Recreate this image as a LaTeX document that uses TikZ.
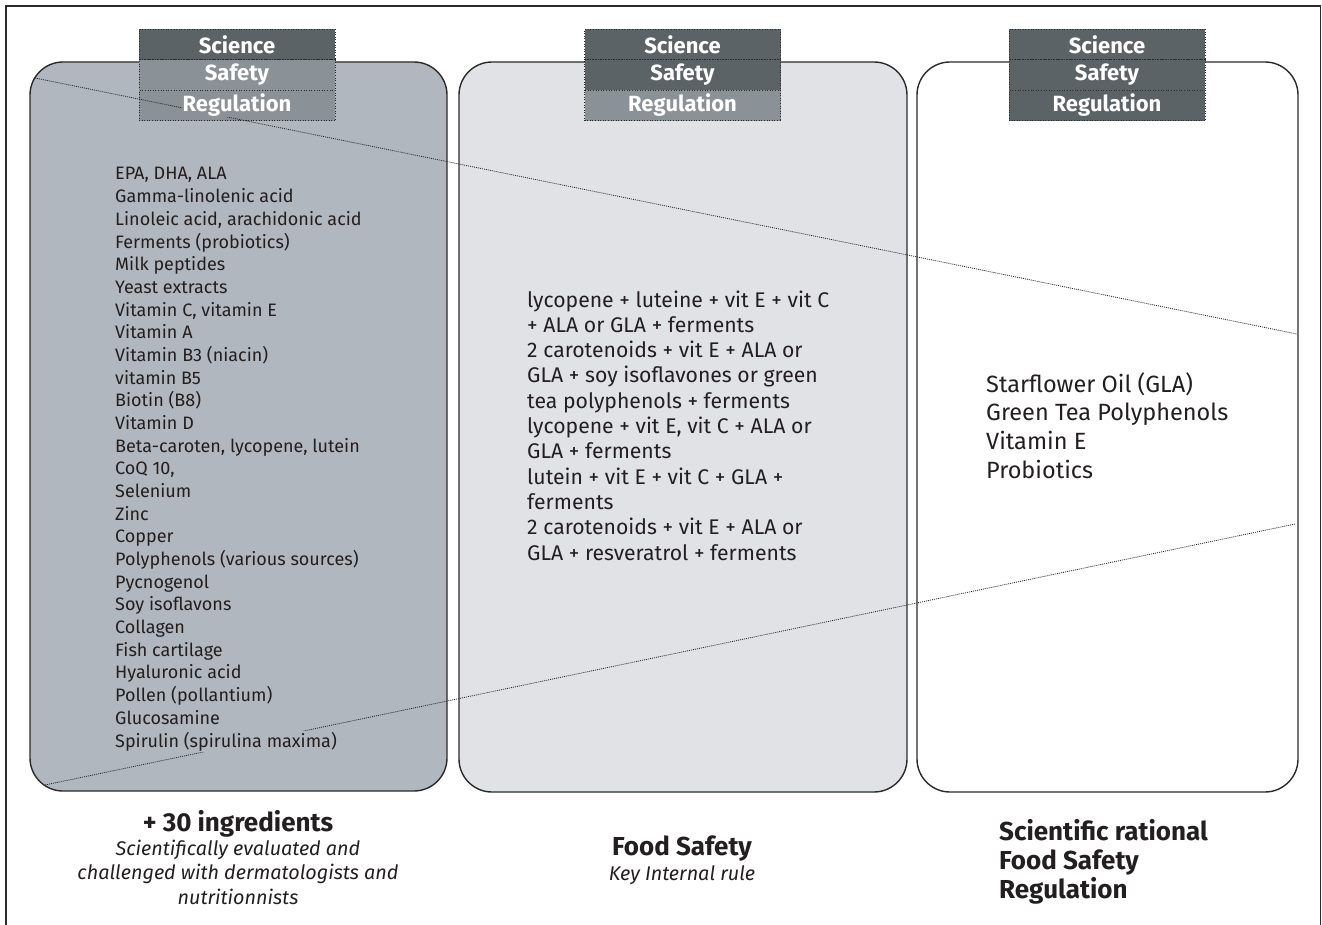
\documentclass[tikz,border=0pt]{standalone}
\usepackage{fontspec}
\setmainfont{Fira Sans}
\definecolor{boxA}{HTML}{B1B7BE}
\definecolor{boxB}{HTML}{E1E2E6}
\definecolor{hdark}{HTML}{5B6366}
\definecolor{hlight}{HTML}{8A9197}
\definecolor{edge}{HTML}{2B2B2B}
\definecolor{txt}{HTML}{231F20}
\begin{document}
\begin{tikzpicture}[x=1pt,y=-1pt,
  panel/.style={draw=edge, line width=1.4pt, rounded corners=33pt, inner sep=0pt},
  hrow/.style={draw=edge, dotted, line width=0.6pt, minimum width=196pt, minimum height=30.5pt, inner sep=0pt},
  htext/.style={text=white, font=\fontsize{22}{24}\selectfont\bfseries, inner xsep=1pt, inner ysep=0.5pt},
  listitem/.style={anchor=base west, fill=boxA, inner xsep=0pt, inner ysep=1pt, text=txt, font=\fontsize{18}{20}\selectfont},
  miditem/.style={anchor=base west, inner sep=0pt, text=txt, font=\fontsize{21.2}{24}\selectfont},
  rightitem/.style={anchor=base west, inner sep=0pt, text=txt, font=\fontsize{23.5}{26}\selectfont},
  boldcap/.style={anchor=base, inner sep=0pt, text=txt, font=\fontsize{26}{28}\selectfont\bfseries},
  itcap/.style={anchor=base, inner sep=0pt, text=txt, font=\fontsize{19.8}{22}\selectfont\itshape},
  dotline/.style={draw=edge, dash pattern=on 1pt off 1pt, line width=0.8pt}]
\useasboundingbox (0,0) rectangle (1322,925);
% outer frame (open at bottom)
\draw[edge, line width=1.5pt] (6,925) -- (6,6) -- (1320.5,6) -- (1320.5,925);
% panels
\node[panel, fill=boxA, minimum width=417pt, minimum height=729pt] (p1) at (238.5,426.5) {};
\node[panel, fill=boxB, minimum width=448pt, minimum height=730pt] (p2) at (683,427) {};
\node[panel, fill=white, minimum width=381pt, minimum height=730pt] (p3) at (1107.5,427) {};
% header rows
\node[hrow, fill=hdark]  (h1a) at (237,44.5) {};
\node[hrow, fill=hlight] (h1b) at (237,75) {};
\node[hrow, fill=hlight] (h1c) at (237,105.5) {};
\node[hrow, fill=hdark]  (h2a) at (682.5,44.5) {};
\node[hrow, fill=hdark]  (h2b) at (682.5,75) {};
\node[hrow, fill=hlight] (h2c) at (682.5,105.5) {};
\node[hrow, fill=hdark]  (h3a) at (1107,44.5) {};
\node[hrow, fill=hdark]  (h3b) at (1107,75) {};
\node[hrow, fill=hdark]  (h3c) at (1107,105.5) {};
% dotted crossing lines
\coordinate (a1) at (35,78);
\coordinate (a2) at (1297,334);
\coordinate (b1) at (45,785);
\coordinate (b2) at (1295,524);
\draw[dotline] (a1) -- (a2);
\draw[dotline] (b1) -- (b2);
% header texts
\node[htext, fill=hdark]  (t1a) at (h1a) {Science};
\node[htext, fill=hlight] (t1b) at (h1b) {Safety};
\node[htext, fill=hlight] (t1c) at (h1c) {Regulation};
\node[htext, fill=hdark]  (t2a) at (h2a) {Science};
\node[htext, fill=hdark]  (t2b) at (h2b) {Safety};
\node[htext, fill=hlight] (t2c) at (h2c) {Regulation};
\node[htext, fill=hdark]  (t3a) at (h3a) {Science};
\node[htext, fill=hdark]  (t3b) at (h3b) {Safety};
\node[htext, fill=hdark]  (t3c) at (h3c) {Regulation};
% list of ingredients
\foreach \t [count=\i] in {{EPA, DHA, ALA},{Gamma-linolenic acid},{Linoleic acid, arachidonic acid},{Ferments (probiotics)},{Milk peptides},{Yeast extracts},{Vitamin C, vitamin E},{Vitamin A},{Vitamin B3 (niacin)},{vitamin B5},{Biotin (B8)},{Vitamin D},{Beta-caroten, lycopene, lutein},{CoQ 10,},{Selenium},{Zinc},{Copper},{Polyphenols (various sources)},{Pycnogenol},{Soy isoflavons},{Collagen},{Fish cartilage},{Hyaluronic acid},{Pollen (pollantium)},{Glucosamine},{Spirulin (spirulina maxima)}}
  \node[listitem] (L\i) at (115,{180+(\i-1)*22.68}) {\t};
% middle combinations
\foreach \t [count=\i] in {{lycopene + luteine + vit E + vit C},{+ ALA or GLA + ferments},{2 carotenoids + vit E + ALA or},{GLA + soy isoflavones or green},{tea polyphenols + ferments},{lycopene + vit E, vit C + ALA or},{GLA + ferments},{lutein + vit E + vit C + GLA +},{ferments},{2 carotenoids + vit E + ALA or},{GLA + resveratrol + ferments}}
  \node[miditem] (M\i) at (527,{307+(\i-1)*25.3}) {\t};
% right formula
\foreach \t [count=\i] in {{Starflower Oil (GLA)},{Green Tea Polyphenols},{Vitamin E},{Probiotics}}
  \node[rightitem] (R\i) at (986,{392+(\i-1)*28.7}) {\t};
% captions
\node[boldcap] (c1) at (238,831) {+ 30 ingredients};
\node[itcap] (c1a) at (238,855) {Scientifically evaluated and};
\node[itcap] (c1b) at (238,879) {challenged with dermatologists and};
\node[itcap] (c1c) at (238,904) {nutritionnists};
\node[boldcap] (c2) at (682,855) {Food Safety};
\node[itcap] (c2a) at (682,880) {Key Internal rule};
\node[boldcap, anchor=base west] (c3a) at (999,840) {Scientific rational};
\node[boldcap, anchor=base west] (c3b) at (999,869) {Food Safety};
\node[boldcap, anchor=base west] (c3c) at (999,898) {Regulation};
\end{tikzpicture}
\end{document}
